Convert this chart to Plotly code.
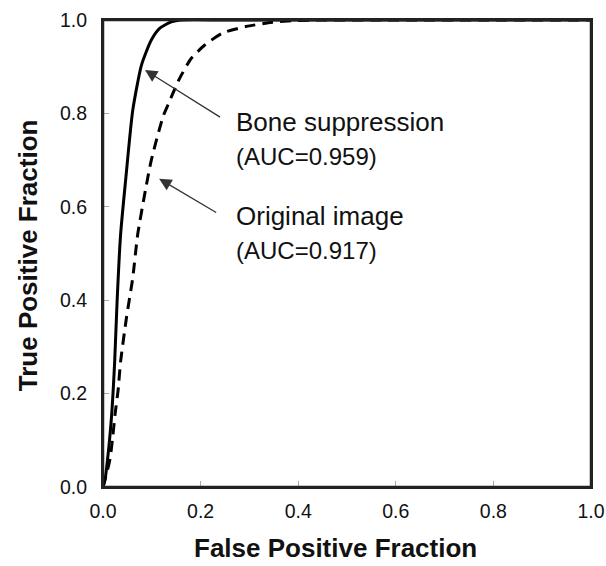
import plotly.graph_objects as go

# Bone suppression (AUC=0.959) - solid
bone_fpf = [0.0, 0.004, 0.012, 0.018, 0.021, 0.024, 0.029, 0.036, 0.047, 0.061, 0.079, 0.099, 0.116, 0.140, 0.163, 0.25, 0.5, 1.0]
bone_tpf = [0.0, 0.015, 0.086, 0.158, 0.210, 0.270, 0.400, 0.540, 0.664, 0.807, 0.904, 0.957, 0.982, 0.996, 1.0, 1.0, 1.0, 1.0]

# Original image (AUC=0.917) - dashed
orig_fpf = [0.0, 0.014, 0.020, 0.025, 0.031, 0.036, 0.048, 0.061, 0.071, 0.087, 0.099, 0.123, 0.133, 0.157, 0.181, 0.208, 0.245, 0.293, 0.347, 0.395, 0.45, 0.6, 1.0]
orig_tpf = [0.0, 0.058, 0.108, 0.158, 0.208, 0.268, 0.362, 0.448, 0.540, 0.636, 0.700, 0.793, 0.818, 0.875, 0.918, 0.946, 0.972, 0.986, 0.995, 0.999, 1.0, 1.0, 1.0]

tick_vals = [0.0, 0.2, 0.4, 0.6, 0.8, 1.0]
tick_text = ["0.0", "0.2", "0.4", "0.6", "0.8", "1.0"]

FONT = "Liberation Sans, Arial, sans-serif"

fig = go.Figure()
fig.add_trace(go.Scatter(x=bone_fpf, y=bone_tpf, mode="lines",
                         line=dict(color="black", width=3, shape="spline", smoothing=0.6),
                         showlegend=False, cliponaxis=True))
fig.add_trace(go.Scatter(x=orig_fpf, y=orig_tpf, mode="lines",
                         line=dict(color="black", width=3, dash="11px,7px", shape="spline", smoothing=0.6),
                         showlegend=False, cliponaxis=True))

axis_common = dict(range=[0, 1], tickvals=tick_vals, ticktext=tick_text,
                   showgrid=False, zeroline=False, showline=True, mirror=True,
                   linecolor="#222", linewidth=2, ticks="inside", ticklen=6,
                   tickcolor="#aaa", tickwidth=1, automargin=False,
                   ticklabeloverflow="allow",
                   tickfont=dict(family=FONT, size=19.5, color="#111"))

fig.update_xaxes(**axis_common, ticklabelstandoff=6)
fig.update_yaxes(**axis_common, ticklabelstandoff=10)

# plot frame
fig.add_shape(type="rect", xref="paper", yref="paper", x0=0, y0=0, x1=1, y1=1,
              line=dict(color="#222", width=2.5), layer="above")

ann = []
# arrows
ann.append(dict(x=0.086, y=0.893, ax=0.243, ay=0.790, xref="x", yref="y", axref="x", ayref="y",
                text="", showarrow=True, arrowhead=2, arrowsize=1.9, arrowwidth=1.3, arrowcolor="#333"))
ann.append(dict(x=0.115, y=0.660, ax=0.235, ay=0.586, xref="x", yref="y", axref="x", ayref="y",
                text="", showarrow=True, arrowhead=2, arrowsize=1.9, arrowwidth=1.3, arrowcolor="#333"))
# labels
ann.append(dict(x=0.269, y=0.747, xref="x", yref="y", xanchor="left", yanchor="middle", align="left",
                text="Bone suppression<br><span style='font-size:24px'>(AUC=0.959)</span>", showarrow=False,
                font=dict(family=FONT, size=26, color="#111")))
ann.append(dict(x=0.269, y=0.545, xref="x", yref="y", xanchor="left", yanchor="middle", align="left",
                text="Original image<br><span style='font-size:24px'>(AUC=0.917)</span>", showarrow=False,
                font=dict(family=FONT, size=26, color="#111")))
# axis titles
ann.append(dict(x=0.4755, y=-0.1306, xref="paper", yref="paper", xanchor="center", yanchor="middle",
                text="<b>False Positive Fraction</b>", showarrow=False,
                font=dict(family=FONT, size=26, color="#111")))
ann.append(dict(x=-0.153, y=0.497, xref="paper", yref="paper", xanchor="center", yanchor="middle",
                text="<b>True Positive Fraction</b>", showarrow=False, textangle=-90,
                font=dict(family=FONT, size=26, color="#111")))

fig.update_layout(width=606, height=566, margin=dict(l=103, r=15, t=20, b=79, autoexpand=False),
                  paper_bgcolor="white", plot_bgcolor="white", annotations=ann)

fig.write_html("out.html", config={"displayModeBar": False},
               post_script="document.documentElement.style.overflow='hidden';document.body.style.margin='0';document.body.style.padding='0';document.body.style.overflow='hidden';")
